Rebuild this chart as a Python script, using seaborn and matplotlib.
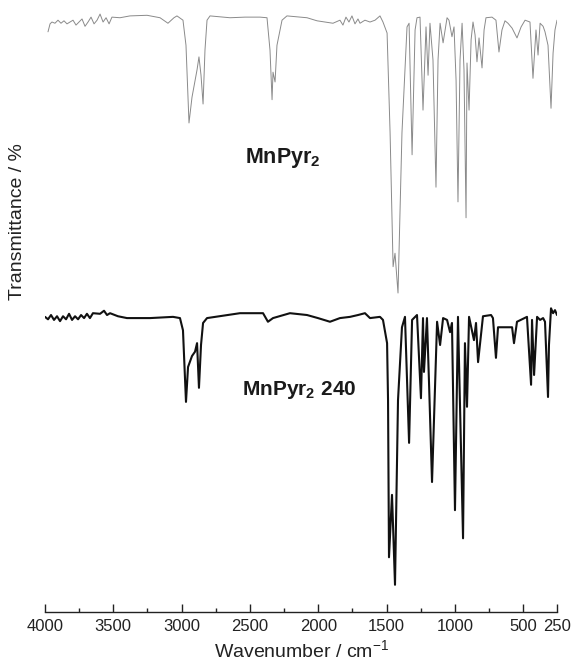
import matplotlib
matplotlib.use("Agg")
import matplotlib.pyplot as plt
from matplotlib.ticker import FixedLocator
import seaborn as sns
import pandas as pd

# ---- data ----
# MnPyr2 spectrum: wavenumber (cm-1) and transmittance (arbitrary %, offset stacked)
wn_top = [3978, 3963, 3949, 3927, 3905, 3883, 3861, 3839, 3817, 3795, 3773, 3751,
          3729, 3707, 3685, 3663, 3641, 3619, 3597, 3575, 3553, 3531, 3510, 3451,
          3378, 3253, 3158, 3100, 3056, 3034, 2990, 2968, 2946, 2924, 2887, 2873,
          2858, 2843, 2829, 2814, 2792, 2646, 2536, 2426, 2375, 2353, 2338, 2331,
          2316, 2302, 2265, 2229, 2082, 2009, 1892, 1841, 1819, 1797, 1775, 1753,
          1731, 1709, 1694, 1658, 1621, 1584, 1548, 1526, 1496, 1474, 1452, 1438,
          1416, 1387, 1350, 1335, 1313, 1291, 1277, 1255, 1233, 1211, 1196, 1182,
          1160, 1138, 1123, 1108, 1086, 1057, 1043, 1021, 1006, 991, 977, 962,
          947, 933, 918, 911, 896, 881, 867, 852, 838, 823, 801, 786,
          772, 728, 699, 677, 655, 633, 611, 581, 545, 515, 486, 450,
          428, 406, 391, 376, 354, 340, 318, 296, 281, 267, 252]
tr_top = [94.8, 96.1, 96.4, 96.2, 96.7, 96.2, 96.6, 96.1, 96.4, 96.7, 95.9, 96.4,
          96.9, 95.7, 96.4, 97.2, 96.1, 96.7, 97.7, 96.4, 97.1, 96.1, 97.2, 97.1,
          97.4, 97.5, 97.1, 96.2, 97.1, 97.4, 96.7, 92.6, 79.9, 84.1, 88.6, 90.7,
          87.7, 83.0, 91.8, 96.7, 97.4, 97.1, 97.2, 97.2, 97.1, 91.8, 83.7, 88.2,
          86.6, 92.6, 96.7, 97.4, 97.1, 96.6, 96.2, 96.7, 95.9, 97.2, 96.4, 97.4,
          96.1, 96.9, 96.2, 96.7, 96.4, 96.7, 97.4, 96.4, 94.6, 78.3, 56.4, 58.6,
          52.1, 78.3, 95.6, 96.2, 74.7, 95.1, 97.1, 97.2, 82.0, 95.6, 87.7, 96.2,
          90.2, 69.4, 90.2, 96.2, 93.0, 97.1, 96.7, 94.0, 95.6, 86.9, 67.0, 90.2,
          96.2, 88.6, 64.4, 89.7, 82.0, 93.5, 96.4, 94.3, 89.9, 93.8, 88.9, 95.1,
          97.1, 97.2, 96.7, 91.5, 95.1, 96.6, 96.2, 95.4, 93.8, 95.6, 96.7, 96.4,
          87.2, 95.1, 91.0, 96.2, 95.7, 94.8, 92.6, 82.3, 91.3, 95.1, 96.7]

# MnPyr2 240 spectrum
wn_bot = [4000, 3978, 3956, 3934, 3912, 3890, 3868, 3846, 3824, 3802, 3780, 3758,
          3736, 3714, 3693, 3671, 3649, 3597, 3568, 3546, 3524, 3466, 3400, 3231,
          3063, 3012, 2990, 2968, 2953, 2924, 2902, 2887, 2873, 2858, 2843, 2814,
          2573, 2404, 2368, 2331, 2207, 2082, 2002, 1914, 1841, 1767, 1709, 1658,
          1621, 1548, 1526, 1496, 1489, 1482, 1460, 1452, 1438, 1416, 1387, 1365,
          1335, 1313, 1277, 1248, 1233, 1226, 1204, 1189, 1167, 1130, 1108, 1086,
          1057, 1035, 1021, 999, 977, 940, 926, 911, 896, 860, 845, 830,
          794, 735, 721, 699, 684, 633, 581, 567, 545, 472, 442, 435,
          420, 398, 376, 354, 340, 318, 311, 296, 281, 267, 252]
tr_bot = [48.2, 47.8, 48.5, 47.7, 48.3, 47.5, 48.3, 47.8, 48.7, 47.7, 48.3, 47.8,
          48.5, 48.0, 48.7, 48.0, 48.8, 48.7, 49.2, 48.5, 48.8, 48.3, 48.0, 48.0,
          48.2, 48.0, 46.0, 34.3, 40.0, 41.8, 42.5, 43.9, 36.6, 43.6, 47.2, 48.0,
          48.8, 48.8, 47.4, 48.0, 48.8, 48.5, 48.0, 47.4, 48.0, 48.2, 48.5, 48.8,
          48.0, 48.2, 47.7, 43.9, 34.6, 8.9, 19.1, 13.8, 4.4, 34.6, 46.5, 48.2,
          27.6, 47.7, 48.5, 34.9, 48.0, 39.2, 48.0, 37.4, 21.2, 47.4, 43.6, 48.0,
          47.7, 45.7, 47.2, 16.6, 48.2, 12.0, 43.9, 33.5, 48.2, 44.4, 47.2, 40.8,
          48.3, 48.5, 48.0, 41.5, 46.5, 46.5, 46.5, 43.9, 47.4, 48.2, 37.1, 47.7,
          38.7, 48.2, 47.7, 48.0, 47.4, 35.1, 43.6, 49.6, 48.8, 49.3, 48.5]

label_top = "MnPyr$_2$"
label_bot = "MnPyr$_2$ 240"
major_ticks = [4000, 3500, 3000, 2500, 2000, 1500, 1000, 500, 250]
minor_ticks = [3750, 3250, 2750, 2250, 1750, 1250, 750]

df_top = pd.DataFrame({"wn": wn_top, "T": tr_top})
df_bot = pd.DataFrame({"wn": wn_bot, "T": tr_bot})

# ---- style ----
sns.set_theme(style="white")
plt.rcParams["font.family"] = ["Liberation Sans", "DejaVu Sans"]
plt.rcParams["mathtext.default"] = "regular"

fig = plt.figure(figsize=(5.73, 6.64), dpi=100)
ax = fig.add_axes([45 / 573, 52.3 / 664, 512.3 / 573, 611.7 / 664])

sns.lineplot(data=df_top, x="wn", y="T", ax=ax, color="#8a8a8a", lw=0.7,
             estimator=None, sort=False)
sns.lineplot(data=df_bot, x="wn", y="T", ax=ax, color="#111111", lw=1.5,
             estimator=None, sort=False)

ax.set_xlim(4000, 250)
ax.set_ylim(0, 100)

ax.text(2258, 74.2, label_top, fontsize=15.5, fontweight="bold",
        ha="center", va="center", color="#1a1a1a")
ax.text(2141, 36.2, label_bot, fontsize=15, fontweight="bold",
        ha="center", va="center", color="#1a1a1a")

for s in ["top", "right", "left"]:
    ax.spines[s].set_visible(False)
ax.spines["bottom"].set_linewidth(1.0)
ax.spines["bottom"].set_color("#222222")

ax.xaxis.set_major_locator(FixedLocator(major_ticks))
ax.xaxis.set_minor_locator(FixedLocator(minor_ticks))
ax.set_xticklabels([str(t) for t in major_ticks])
ax.tick_params(axis="x", which="major", direction="in", length=6, width=1.0,
               labelsize=12, pad=5, colors="#222222", bottom=True)
ax.tick_params(axis="x", which="minor", direction="in", length=3, width=1.0,
               colors="#222222", bottom=True)
ax.set_yticks([])

ax.set_xlabel("Wavenumber / cm$^{-1}$", fontsize=14, color="#222222", labelpad=4)
ax.set_ylabel("Transmittance / %", fontsize=14, color="#222222")
ax.yaxis.set_label_coords(-0.038, 0.637)

fig.savefig("out.png", dpi=100)
